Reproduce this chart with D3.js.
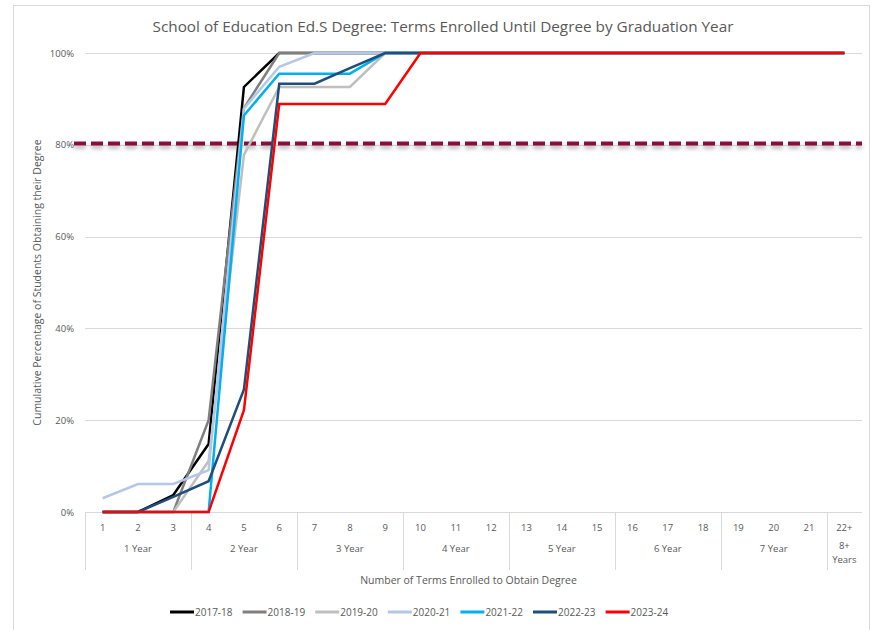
<!DOCTYPE html>
<meta charset="utf-8">
<script src="https://d3js.org/d3.v7.min.js"></script>
<style>
  body { margin: 0; background: #fff; }
  text { font-family: "Open Sans", "Liberation Sans", sans-serif; fill: #595959; }
</style>
<div id="my_dataviz"></div>
<script>
// terms enrolled (x categories) and the year groups under them
var terms = ["1","2","3","4","5","6","7","8","9","10","11","12","13","14","15","16","17","18","19","20","21","22+"];
var groupNames = ["1 Year","2 Year","3 Year","4 Year","5 Year","6 Year","7 Year","8+|Years"];
var groupSizes = [3,3,3,3,3,3,3,1];

var yTicks = [0, 20, 40, 60, 80, 100];
var target = 80.3;

// cumulative % of students per graduation year
var seriesNames = ["2017-18","2018-19","2019-20","2020-21","2021-22","2022-23","2023-24"];
var seriesColors = ["#000000","#7f7f7f","#bfbfbf","#b4c7e7","#00b0f0","#1f4e79","#ff0000"];
var v2017 = [0,0,3.7,14.8,92.6,100,100,100,100,100,100,100,100,100,100,100,100,100,100,100,100,100];
var v2018 = [0,0,0,20,88,100,100,100,100,100,100,100,100,100,100,100,100,100,100,100,100,100];
var v2019 = [0,0,0,11.1,77.8,92.6,92.6,92.6,100,100,100,100,100,100,100,100,100,100,100,100,100,100];
var v2020 = [3,6.1,6.1,9.1,87.9,97,100,100,100,100,100,100,100,100,100,100,100,100,100,100,100,100];
var v2021 = [0,0,0,0,86.4,95.5,95.5,95.5,100,100,100,100,100,100,100,100,100,100,100,100,100,100];
var v2022 = [0,0,3.3,6.7,26.7,93.3,93.3,96.7,100,100,100,100,100,100,100,100,100,100,100,100,100,100];
var v2023 = [0,0,0,0,22.2,88.9,88.9,88.9,88.9,100,100,100,100,100,100,100,100,100,100,100,100,100];
var seriesValues = [v2017, v2018, v2019, v2020, v2021, v2022, v2023];

var W = 881, H = 630;
var pLeft = 85, pRight = 862, pTop = 53, pBottom = 512;

var svg = d3.select("#my_dataviz").append("svg")
  .attr("width", W).attr("height", H);

// chart frame
svg.append("rect")
  .attr("x", 13.5).attr("y", 5.5).attr("width", 856).attr("height", 640)
  .attr("fill", "none").attr("stroke", "#d9d9d9");

var x = d3.scaleBand().domain(terms).range([pLeft, pRight]);
var y = d3.scaleLinear().domain([0, 100]).range([pBottom, pTop]);

// title
svg.append("text")
  .attr("x", 443).attr("y", 32)
  .attr("text-anchor", "middle")
  .attr("font-size", "15.3px")
  .text("School of Education Ed.S Degree: Terms Enrolled Until Degree by Graduation Year");

// gridlines + y labels
svg.selectAll(".grid").data(yTicks).enter().append("line")
  .attr("x1", pLeft).attr("x2", pRight)
  .attr("y1", function(d){ return Math.round(y(d)) + 0.5; })
  .attr("y2", function(d){ return Math.round(y(d)) + 0.5; })
  .attr("stroke", "#d9d9d9");
svg.selectAll(".ylab").data(yTicks).enter().append("text")
  .attr("x", 74).attr("y", function(d){ return y(d) + 3.5; })
  .attr("text-anchor", "end")
  .attr("font-size", "9.5px")
  .text(function(d){ return d + "%"; });

svg.append("text")
  .attr("transform", "translate(41," + ((pTop + pBottom) / 2) + ") rotate(-90)")
  .attr("text-anchor", "middle")
  .attr("font-size", "10.5px")
  .text("Cumulative Percentage of Students Obtaining their Degree");

// category axis: term numbers
svg.selectAll(".xlab").data(terms).enter().append("text")
  .attr("x", function(d){ return x(d) + x.bandwidth() / 2; })
  .attr("y", 531)
  .attr("text-anchor", "middle")
  .attr("font-size", "9.5px")
  .text(function(d){ return d; });

// year groups and separators
var start = 0, groups = [];
groupNames.forEach(function(g, i) {
  groups.push({ name: g, first: terms[start], last: terms[start + groupSizes[i] - 1] });
  start += groupSizes[i];
});
var sepX = [pLeft].concat(groups.slice(0, -1).map(function(g){ return x(g.last) + x.bandwidth(); }));
svg.selectAll(".sep").data(sepX).enter().append("line")
  .attr("x1", function(d){ return Math.round(d) + 0.5; })
  .attr("x2", function(d){ return Math.round(d) + 0.5; })
  .attr("y1", pBottom).attr("y2", 570)
  .attr("stroke", "#d9d9d9");

groups.forEach(function(g) {
  var cx = (x(g.first) + x(g.last) + x.bandwidth()) / 2;
  var lines = g.name.split("|");
  var t = svg.append("text")
    .attr("text-anchor", "middle")
    .attr("font-size", "9.5px");
  lines.forEach(function(l, k) {
    t.append("tspan").attr("x", cx)
      .attr("y", lines.length > 1 ? 549 + k * 14 : 552)
      .text(l);
  });
});

svg.append("text")
  .attr("x", (pLeft + pRight) / 2 - 5).attr("y", 584)
  .attr("text-anchor", "middle")
  .attr("font-size", "10.5px")
  .text("Number of Terms Enrolled to Obtain Degree");

// target line with soft shadow (user-space filter region, the line has no height)
var defs = svg.append("defs");
var f = defs.append("filter").attr("id", "shadow")
  .attr("filterUnits", "userSpaceOnUse")
  .attr("x", 0).attr("y", 0).attr("width", W).attr("height", H);
f.append("feDropShadow").attr("dx", 0).attr("dy", 3).attr("stdDeviation", 2)
  .attr("flood-color", "#000").attr("flood-opacity", 0.3);

svg.append("line")
  .attr("x1", 74).attr("x2", pRight)
  .attr("y1", y(target)).attr("y2", y(target))
  .attr("stroke", "#8b0f3e")
  .attr("stroke-width", 4)
  .attr("stroke-dasharray", "12,5")
  .attr("filter", "url(#shadow)");

// series lines
var line = d3.line()
  .x(function(d, i){ return x(terms[i]) + x.bandwidth() / 2; })
  .y(function(d){ return y(d); });

svg.selectAll(".series").data(seriesValues).enter().append("path")
  .attr("d", line)
  .attr("fill", "none")
  .attr("stroke", function(d, i){ return seriesColors[i]; })
  .attr("stroke-width", 2.5)
  .attr("stroke-linejoin", "miter");

// legend
var leg = svg.selectAll(".leg").data(seriesNames).enter().append("g")
  .attr("transform", function(d, i){ return "translate(" + (170 + i * 72.6) + ",612)"; });
leg.append("line")
  .attr("x1", 0).attr("x2", 24)
  .attr("stroke", function(d, i){ return seriesColors[i]; })
  .attr("stroke-width", 3);
leg.append("text")
  .attr("x", 25).attr("y", 3.5)
  .attr("font-size", "10px")
  .text(function(d){ return d; });
</script>
